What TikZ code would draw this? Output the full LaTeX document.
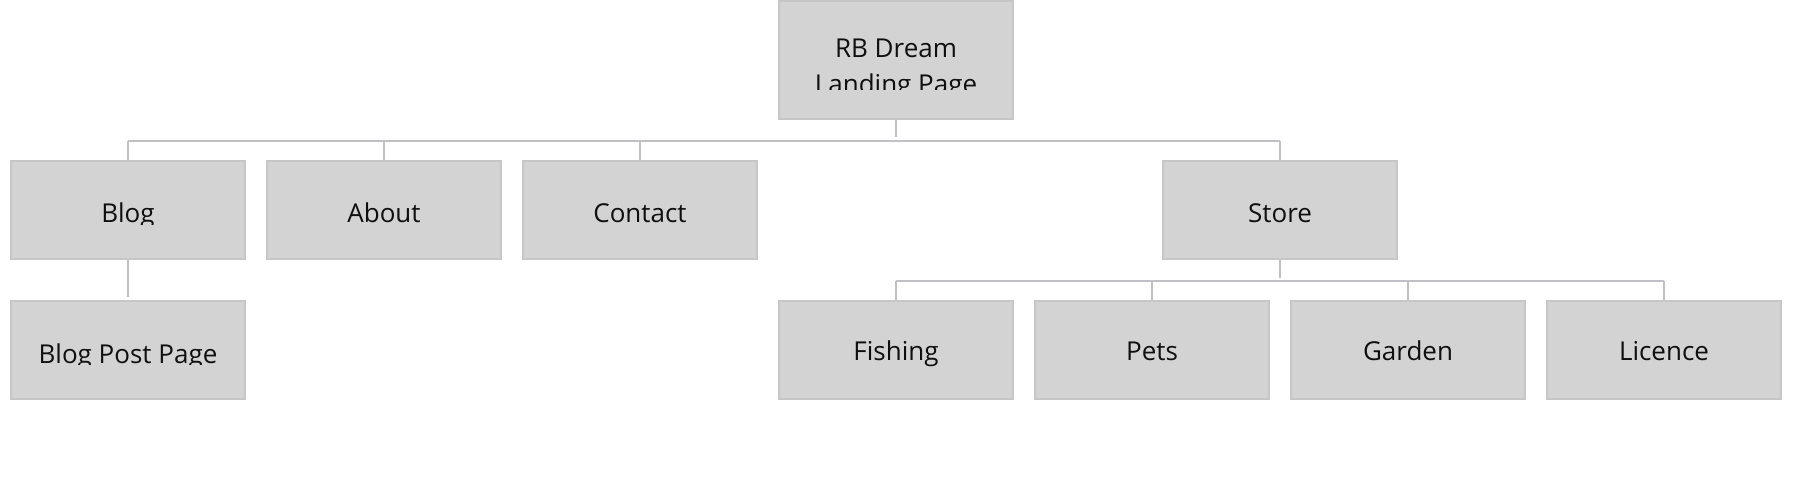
\documentclass[tikz,border=0pt]{standalone}
\usepackage{fontspec}
\setmainfont{Open Sans}
\definecolor{boxfill}{RGB}{211,211,211}
\definecolor{boxline}{RGB}{199,199,199}
\definecolor{connline}{RGB}{192,192,197}
\definecolor{txtcol}{RGB}{15,15,15}
\tikzset{
  pagebox/.style={rectangle, fill=boxfill, draw=boxline, line width=2pt,
    minimum width=234pt, minimum height=98pt, inner sep=0pt},
  rootbox/.style={pagebox, minimum height=118pt},
  lbl/.style={anchor=base, inner sep=0pt, text=txtcol,
    font=\fontsize{26pt}{36pt}\selectfont},
  conn/.style={draw=connline, line width=2pt}
}
\begin{document}
\begin{tikzpicture}[x=1pt,y=-1pt]
\useasboundingbox (0,0) rectangle (1802,480);

% boxes
\node[rootbox] (root) at (896,60) {};
\node[pagebox] (blog) at (128,210) {};
\node[pagebox] (about) at (384,210) {};
\node[pagebox] (contact) at (640,210) {};
\node[pagebox] (store) at (1280,210) {};
\node[pagebox] (post) at (128,350) {};
\node[pagebox] (fishing) at (896,350) {};
\node[pagebox] (pets) at (1152,350) {};
\node[pagebox] (garden) at (1408,350) {};
\node[pagebox] (licence) at (1664,350) {};

% labels
\begin{scope}
  \clip (778,0) rectangle (1014,89.3);
  \node[lbl] (roott1) at (896,57.3) {RB Dream};
  \node[lbl] (roott2) at (896,93.5) {Landing Page};
\end{scope}
\begin{scope}
  \clip (10,160) rectangle (246,224.5);
  \node[lbl] (blogt) at (128,222.9) {Blog};
\end{scope}
\node[lbl] (aboutt) at (384,222) {About};
\node[lbl] (contactt) at (640,222) {Contact};
\node[lbl] (storet) at (1280,222) {Store};
\begin{scope}
  \clip (10,300) rectangle (246,364.6);
  \node[lbl] (postt) at (128,363.4) {Blog Post Page};
\end{scope}
\node[lbl] (fishingt) at (896,360.3) {Fishing};
\node[lbl] (petst) at (1152,360.3) {Pets};
\node[lbl] (gardent) at (1408,360.3) {Garden};
\node[lbl] (licencet) at (1664,360.3) {Licence};

% connectors: root -> level 1
\coordinate (bus1) at (0,141);
\coordinate (rootstub) at (896,137);
\draw[conn] (root.south) -- (rootstub);
\draw[conn] (blog.north |- bus1) -- (store.north |- bus1);
\foreach \n in {blog,about,contact,store}
  \draw[conn] (\n.north |- bus1) -- (\n.north);

% store -> products
\coordinate (bus2) at (0,280.7);
\coordinate (storestub) at (1280,277.7);
\draw[conn] (store.south) -- (storestub);
\draw[conn] (fishing.north |- bus2) -- (licence.north |- bus2);
\foreach \n in {fishing,pets,garden,licence}
  \draw[conn] (\n.north |- bus2) -- (\n.north);

% blog -> blog post
\coordinate (blogstub) at (128,297.3);
\draw[conn] (blog.south) -- (blogstub);
\end{tikzpicture}
\end{document}
